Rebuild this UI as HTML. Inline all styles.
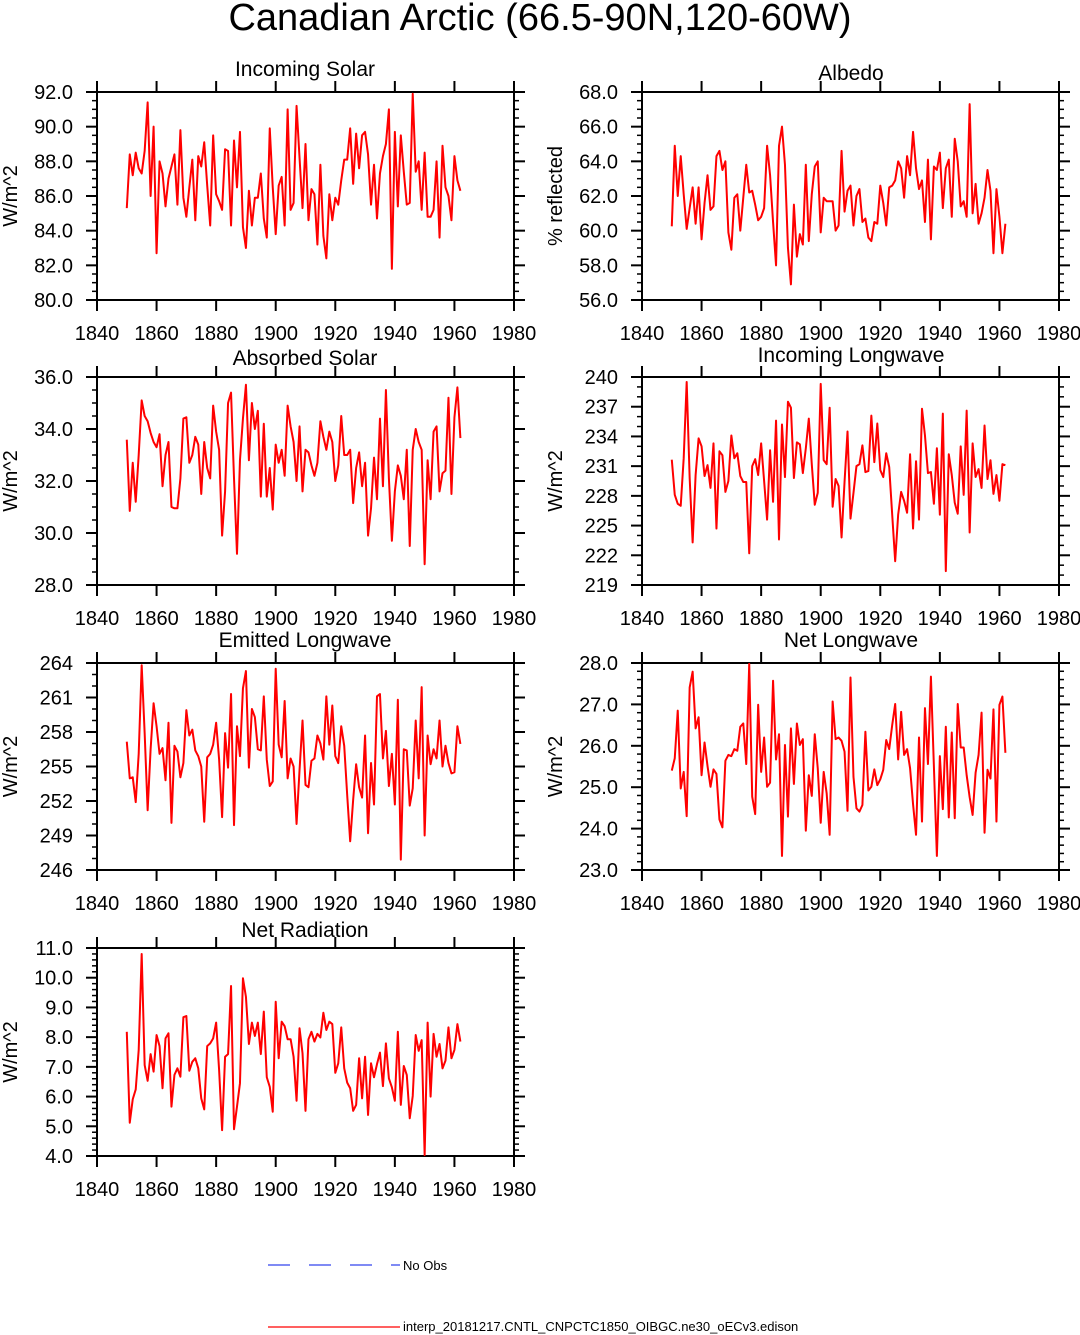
<!DOCTYPE html>
<html><head><meta charset="utf-8"><style>
html,body{margin:0;padding:0;background:#fff;}
svg{display:block;font-family:"Liberation Sans",Arial,sans-serif;}
</style></head><body>
<svg id="chart" width="1080" height="1335" viewBox="0 0 1080 1335" xmlns="http://www.w3.org/2000/svg">
<text x="540" y="30" font-size="38" text-anchor="middle">Canadian Arctic (66.5-90N,120-60W)</text>
<g id="panels"></g>
<line x1="268" y1="1265" x2="400" y2="1265" stroke="#3344ee" stroke-width="1.2" stroke-dasharray="22,19"/>
<text x="403" y="1270" font-size="13">No Obs</text>
<line x1="268" y1="1327" x2="400" y2="1327" stroke="#ff0000" stroke-width="1.2"/>
<text x="403" y="1331" font-size="13">interp_20181217.CNTL_CNPCTC1850_OIBGC.ne30_oECv3.edison</text>
</svg>
<script>
const startYear = 1850;
const xTickYears = [1840,1860,1880,1900,1920,1940,1960,1980];
const incomingSolar = [85.3,88.4,87.2,88.5,87.6,87.3,88.6,91.4,86.0,90.0,
82.7,88.0,87.3,85.4,87.0,87.7,88.4,85.5,89.8,85.9,
84.8,86.5,88.1,84.6,88.3,87.7,89.1,86.6,84.3,89.5,
86.1,85.7,85.2,88.7,88.6,84.3,89.2,86.5,89.7,84.2,
83.0,86.3,84.3,85.9,85.9,87.3,84.7,83.6,89.9,86.5,
83.8,86.6,87.1,84.3,91.0,85.2,85.6,91.2,88.2,85.3,
89.0,84.6,86.4,86.1,83.2,87.8,83.7,82.4,86.1,84.6,
85.9,85.5,86.9,88.1,88.1,89.9,86.7,89.6,87.6,89.5,
89.7,88.4,85.5,87.8,84.7,87.3,88.3,89.0,91.0,81.8,
89.7,85.4,89.5,87.4,85.5,85.6,91.9,87.4,88.0,85.2,
88.5,84.8,84.8,85.2,88.0,83.6,88.9,86.5,86.0,84.6,
88.3,86.9,86.3];
const albedo = [60.25,64.9,62.0,64.3,62.1,60.1,61.3,62.5,60.4,62.5,
59.5,61.6,63.2,61.2,61.4,64.3,64.6,63.5,64.0,59.9,
58.9,61.9,62.1,60.0,61.9,63.8,62.2,62.3,61.5,60.6,
60.8,61.3,64.9,63.2,60.5,58.0,64.9,66.0,63.8,59.0,
56.9,61.5,58.5,59.8,59.2,63.8,59.4,62.1,63.7,64.0,
59.9,61.9,61.7,61.7,61.7,60.0,60.3,64.6,61.1,62.3,
62.6,60.3,62.0,62.4,60.5,60.7,59.6,59.4,60.5,60.4,
62.6,61.6,60.3,62.5,62.6,62.9,64.0,63.6,61.9,64.3,
63.2,65.7,63.6,62.4,62.9,60.5,64.1,59.5,63.7,63.5,
64.5,61.3,63.6,64.1,60.8,65.3,64.0,61.4,61.7,60.8,
67.3,61.0,62.7,60.4,61.0,61.9,63.5,62.3,58.7,62.4,
60.8,58.7,60.4];
const absorbedSolar = [33.59,30.85,32.7,31.2,33.0,35.1,34.5,34.3,33.85,33.5,
33.3,33.8,31.8,33.0,33.5,31.0,30.95,30.95,32.1,34.4,
34.45,32.7,33.0,33.7,33.4,31.5,33.5,32.5,32.1,34.9,
33.9,33.2,29.9,31.6,35.0,35.4,32.1,29.2,32.8,34.4,
35.7,32.8,35.0,34.0,34.7,31.4,34.2,31.4,32.5,30.9,
33.4,32.7,33.2,32.2,34.9,34.1,33.5,32.0,34.1,31.6,
33.2,33.1,32.6,32.2,32.7,34.3,33.7,33.2,33.9,33.5,
32.0,32.6,34.5,33.0,33.0,33.2,31.15,32.5,33.1,31.8,
32.7,29.9,30.95,32.9,31.3,34.4,31.8,35.5,32.1,29.7,
31.6,32.6,32.2,31.3,33.2,29.5,33.2,34.0,33.5,33.2,
28.8,32.8,31.3,33.9,34.1,31.6,32.3,32.4,35.2,31.5,
34.45,35.6,33.65];
const incomingLongwave = [231.65,228.1,227.2,227.0,231.8,239.5,229.8,223.3,230.1,233.8,
233.0,230.0,231.1,228.8,233.3,224.7,232.5,232.1,228.4,229.5,
234.1,231.8,232.3,230.0,229.4,229.4,222.2,231.0,231.7,230.1,
233.3,229.5,225.6,232.6,227.4,235.6,223.6,235.2,229.9,237.5,
236.9,229.8,233.4,233.2,230.3,232.8,235.8,231.2,227.1,228.3,
239.3,231.6,231.2,236.9,226.9,229.7,229.0,223.8,229.4,234.5,
225.7,228.3,231.0,231.2,233.1,230.4,230.5,236.1,231.4,235.3,
230.6,229.9,232.3,230.9,226.1,221.4,226.1,228.4,227.5,226.3,
232.2,224.7,231.5,225.6,236.8,234.1,230.3,230.4,227.2,232.8,
226.1,236.3,220.4,232.2,230.1,227.3,226.2,233.0,228.1,236.6,
224.3,233.3,229.9,230.7,228.8,235.1,229.7,231.6,228.2,230.1,
227.5,231.2,231.1];
const emittedLongwave = [257.16,253.97,254.06,251.9,256.1,263.8,257.9,251.2,256.5,260.5,
258.5,256.1,256.6,253.8,258.8,250.1,256.8,256.3,254.06,255.3,
259.9,257.7,258.2,256.4,255.9,255.0,250.2,255.8,256.1,256.9,
258.8,255.6,250.6,257.9,254.9,261.3,249.9,258.5,255.9,261.8,
263.3,254.9,260.0,259.3,256.5,256.4,261.1,255.6,253.3,253.7,
263.5,256.9,255.8,260.7,253.97,255.7,255.0,250.0,254.7,259.0,
253.4,253.2,255.5,255.7,257.7,257.0,255.6,261.1,256.9,260.3,
255.9,255.3,258.5,256.8,252.5,248.5,252.1,255.2,253.2,252.3,
257.7,249.2,255.3,251.7,261.1,261.3,255.7,258.1,253.3,256.1,
251.7,260.8,246.9,256.5,256.4,251.6,253.1,259.0,253.97,261.9,
249.0,257.7,255.2,256.5,255.7,259.0,255.0,256.8,255.3,254.4,
254.5,258.5,256.96];
const netLongwave = [25.40,25.70,26.85,24.97,25.37,24.30,27.41,27.79,26.42,26.69,
25.29,26.08,25.51,25.01,25.43,25.32,24.22,24.03,25.64,25.78,
25.75,25.92,25.88,26.46,26.54,25.56,27.98,24.77,24.35,26.99,
25.37,26.20,25.01,25.11,27.57,25.67,26.28,23.34,26.02,24.29,
26.42,25.08,26.54,26.02,26.16,23.95,25.29,24.79,26.28,25.46,
24.14,25.37,24.85,23.85,27.07,26.16,26.20,26.12,25.86,24.43,
27.65,25.25,24.49,24.41,24.57,26.34,24.92,25.01,25.43,25.05,
25.19,25.42,26.14,25.92,26.50,27.01,25.67,26.82,25.78,25.92,
25.46,24.59,23.85,26.20,24.17,26.91,25.56,27.67,25.50,23.34,
25.75,24.47,26.46,24.27,26.32,24.25,27.01,25.96,25.96,25.29,
24.76,24.33,25.35,25.78,26.80,23.90,25.42,25.21,26.88,24.17,
26.99,27.19,25.83];
const netRadiation = [8.18,5.12,5.91,6.24,7.57,10.80,7.06,6.53,7.43,6.84,
8.07,7.70,6.28,7.96,8.13,5.66,6.73,6.95,6.67,8.67,
8.71,6.87,7.17,7.29,6.95,5.94,5.57,7.70,7.79,7.96,
8.49,6.89,4.87,7.34,7.43,9.72,4.90,5.66,6.45,9.98,
9.36,7.77,8.49,8.04,8.49,7.43,8.86,6.65,6.33,5.49,
9.19,7.29,8.52,8.37,7.93,7.93,7.34,5.86,8.30,7.46,
5.52,7.93,8.18,7.85,8.11,7.99,8.82,8.24,8.52,8.44,
6.80,7.12,8.33,6.95,6.47,6.28,5.52,5.72,7.29,5.94,
7.34,5.38,7.12,6.65,7.09,7.48,6.35,7.79,6.61,6.31,
5.86,8.18,5.72,7.03,6.73,5.27,6.02,8.07,7.54,7.90,
4.03,8.49,6.00,8.11,7.34,7.77,6.95,7.21,8.33,7.29,
7.57,8.44,7.85];
const ticksIncomingSolar = [80,82,84,86,88,90,92];
const ticksAlbedo = [56,58,60,62,64,66,68];
const ticksAbsorbedSolar = [28,30,32,34,36];
const ticksIncomingLongwave = [219,222,225,228,231,234,237,240];
const ticksEmittedLongwave = [246,249,252,255,258,261,264];
const ticksNetLongwave = [23,24,25,26,27,28];
const ticksNetRadiation = [4,5,6,7,8,9,10,11];

const NS = "http://www.w3.org/2000/svg";
const root = document.getElementById('panels');
function mk(tag, attrs, parent){
  const e = document.createElementNS(NS, tag);
  for (const k in attrs) e.setAttribute(k, attrs[k]);
  (parent||root).appendChild(e);
  return e;
}
const panels = [
  {key:'incoming-solar', title:'Incoming Solar', ytitle:'W/m^2', data:incomingSolar, ticks:ticksIncomingSolar, dec:1, minor:4, x0:97, y0:92, y1:300, tx:305, ty:76},
  {key:'albedo', title:'Albedo', ytitle:'% reflected', data:albedo, ticks:ticksAlbedo, dec:1, minor:4, x0:642, y0:92, y1:300, tx:851, ty:80},
  {key:'absorbed-solar', title:'Absorbed Solar', ytitle:'W/m^2', data:absorbedSolar, ticks:ticksAbsorbedSolar, dec:1, minor:4, x0:97, y0:377, y1:585, tx:305, ty:365},
  {key:'incoming-longwave', title:'Incoming Longwave', ytitle:'W/m^2', data:incomingLongwave, ticks:ticksIncomingLongwave, dec:0, minor:3, x0:642, y0:377, y1:585, tx:851, ty:362},
  {key:'emitted-longwave', title:'Emitted Longwave', ytitle:'W/m^2', data:emittedLongwave, ticks:ticksEmittedLongwave, dec:0, minor:3, x0:97, y0:663, y1:870, tx:305, ty:647},
  {key:'net-longwave', title:'Net Longwave', ytitle:'W/m^2', data:netLongwave, ticks:ticksNetLongwave, dec:1, minor:5, x0:642, y0:663, y1:870, tx:851, ty:647},
  {key:'net-radiation', title:'Net Radiation', ytitle:'W/m^2', data:netRadiation, ticks:ticksNetRadiation, dec:1, minor:5, x0:97, y0:948, y1:1156, tx:305, ty:937}
];
const W = 417;
panels.forEach(p=>{
  const g = mk('g', {});
  
  
  const xs = yr => p.x0 + (yr - 1840) / 140 * W;
  const tmin = p.ticks[0], tmax = p.ticks[p.ticks.length-1];
  const ys = v => p.y1 - (v - tmin) / (tmax - tmin) * (p.y1 - p.y0);
  const x1 = p.x0 + W;
  const t = mk('text', {x:p.tx, y:p.ty, 'font-size':21, 'text-anchor':'middle'}, g);
  
  
  t.textContent = p.title;
  const yt = mk('text', {x:0, y:0, 'font-size':20, 'text-anchor':'middle', transform:'translate('+(p.x0-80)+','+((p.y0+p.y1)/2)+') rotate(-90)'}, g);
  
  
  yt.textContent = p.ytitle;
  const fr = mk('rect', {x:p.x0, y:p.y0, width:W, height:p.y1-p.y0, fill:'none', stroke:'#000', 'stroke-width':2}, g);
  
  
  xTickYears.forEach(yr=>{
    const x = xs(yr);
    mk('line', {x1:x, y1:p.y1, x2:x, y2:p.y1+11, stroke:'#000', 'stroke-width':2}, g);
    mk('line', {x1:x, y1:p.y0, x2:x, y2:p.y0-11, stroke:'#000', 'stroke-width':2}, g);
    const lb = mk('text', {x:x, y:p.y1+40, 'font-size':20, 'text-anchor':'middle'}, g);
    
    
    lb.textContent = yr;
  });
  p.ticks.forEach((v,i)=>{
    const y = ys(v);
    mk('line', {x1:p.x0, y1:y, x2:p.x0-11, y2:y, stroke:'#000', 'stroke-width':2}, g);
    mk('line', {x1:x1, y1:y, x2:x1+11, y2:y, stroke:'#000', 'stroke-width':2}, g);
    const lb = mk('text', {x:p.x0-24, y:y+7, 'font-size':20, 'text-anchor':'end'}, g);
    
    
    lb.textContent = v.toFixed(p.dec);
    if (i < p.ticks.length-1) {
      const step = p.ticks[i+1]-v;
      for (let k=1;k<p.minor;k++){
        const ym = ys(v + step*k/p.minor);
        mk('line', {x1:p.x0, y1:ym, x2:p.x0-5, y2:ym, stroke:'#000', 'stroke-width':1.5}, g);
        mk('line', {x1:x1, y1:ym, x2:x1+5, y2:ym, stroke:'#000', 'stroke-width':1.5}, g);
      }
    }
  });
  const pts = p.data.map((v,i)=> xs(startYear+i).toFixed(2)+','+ys(v).toFixed(2)).join(' ');
  const line = mk('polyline', {points:pts, fill:'none', stroke:'#ff0000', 'stroke-width':2, 'stroke-linejoin':'round'}, g);
  
  
});
</script>
</body></html>
